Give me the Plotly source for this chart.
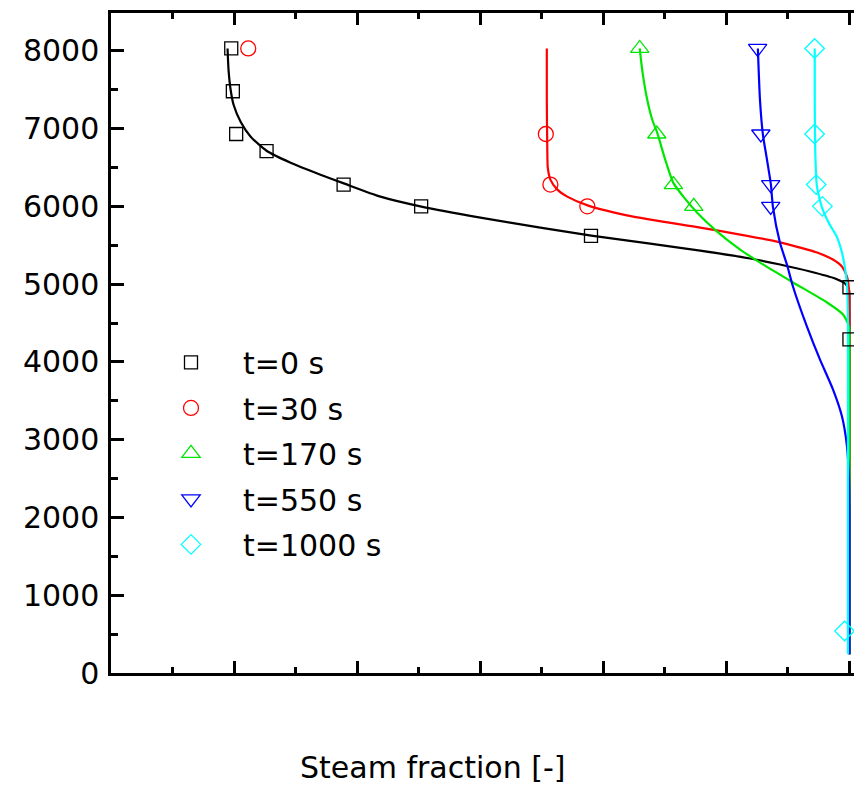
import plotly.graph_objects as go

# ---------------- data ----------------
series_names = ["t=0 s", "t=30 s", "t=170 s", "t=550 s", "t=1000 s"]
series_colors = ["#000000", "#ff0000", "#00e600", "#0000ff", "#00ffff"]
series_symbols = ["square-open", "circle-open", "triangle-up-open", "triangle-down-open", "diamond-open"]
series_sizes = [13, 15, 16, 16, 15]

# measured points (steam fraction, elevation)
pts_x_t0 = [0.4977, 0.499, 0.5017, 0.5264, 0.589, 0.652, 0.790, 1.0, 1.0]
pts_y_t0 = [8030, 7480, 6930, 6710, 6280, 6000, 5620, 4960, 4290]
pts_x_t30 = [0.5115, 0.7533, 0.757, 0.787]
pts_y_t30 = [8030, 6930, 6280, 6000]
pts_x_t170 = [0.8296, 0.8435, 0.857, 0.8735]
pts_y_t170 = [8030, 6930, 6280, 6000]
pts_x_t550 = [0.9254, 0.928, 0.936, 0.936]
pts_y_t550 = [8030, 6930, 6280, 6000]
pts_x_t1000 = [0.9717, 0.9717, 0.973, 0.978, 0.996]
pts_y_t1000 = [8030, 6930, 6280, 6000, 540]

# model curves
crv_x_t0 = [0.4947, 0.4955, 0.4972, 0.4996, 0.5053, 0.5135, 0.5264, 0.5459, 0.5702, 0.5897,
            0.6189, 0.6522, 0.7001, 0.7488, 0.7902, 0.8381, 0.8787, 0.9193, 0.9436, 0.968,
            0.9883, 0.9964, 0.9996, 1.0, 1.0]
crv_y_t0 = [8030, 7755, 7499, 7306, 7088, 6895, 6715, 6561, 6407, 6292,
            6125, 5997, 5855, 5727, 5624, 5521, 5431, 5329, 5252, 5162,
            5072, 5008, 4931, 4674, 240]

crv_x_t30 = [0.7541, 0.7541, 0.7545, 0.7549, 0.757, 0.7626, 0.7707, 0.7878, 0.8243, 0.8787,
             0.9112, 0.9412, 0.9599, 0.9737, 0.9866, 0.9939, 0.998, 0.9996, 1.0, 1.0]
crv_y_t30 = [8030, 7370, 6728, 6497, 6343, 6215, 6125, 6009, 5868, 5727,
             5637, 5547, 5470, 5406, 5316, 5226, 5098, 4931, 4545, 240]

crv_x_t170 = [0.8296, 0.8316, 0.8357, 0.8398, 0.8438, 0.8503, 0.8568, 0.8657, 0.8763, 0.8925,
              0.9112, 0.9274, 0.9542, 0.9818, 0.9948, 0.9996, 1.0, 1.0]
crv_y_t170 = [8030, 7755, 7370, 7113, 6947, 6600, 6305, 6112, 5919, 5675,
              5444, 5277, 5021, 4764, 4610, 4456, 4224, 240]

crv_x_t550 = [0.9256, 0.9273, 0.9297, 0.933, 0.9362, 0.9378, 0.9435, 0.9492, 0.9541, 0.9654,
              0.976, 0.9866, 0.9939, 0.998, 0.9996, 1.0, 1.0]
crv_y_t550 = [8030, 7370, 6921, 6600, 6279, 5997, 5534, 5252, 4969, 4456,
              4032, 3647, 3300, 2915, 2491, 1977, 240]

crv_x_t1000 = [0.9718, 0.9718, 0.9722, 0.9734, 0.9759, 0.9783, 0.984, 0.9897, 0.9937, 0.9962,
               0.998, 0.9988, 0.9988]
crv_y_t1000 = [8030, 7370, 6728, 6279, 6086, 5958, 5765, 5611, 5418, 5226,
               4995, 4545, 240]

pts_x = [pts_x_t0, pts_x_t30, pts_x_t170, pts_x_t550, pts_x_t1000]
pts_y = [pts_y_t0, pts_y_t30, pts_y_t170, pts_y_t550, pts_y_t1000]
crv_x = [crv_x_t0, crv_x_t30, crv_x_t170, crv_x_t550, crv_x_t1000]
crv_y = [crv_y_t0, crv_y_t30, crv_y_t170, crv_y_t550, crv_y_t1000]

x_title = "Steam fraction [-]"

# ---------------- figure ----------------
FONT = "DejaVu Sans"
fig = go.Figure()

for i in range(len(series_names)):
    fig.add_trace(go.Scatter(
        x=crv_x[i], y=crv_y[i], mode="lines",
        line=dict(color=series_colors[i], width=2.2, shape="spline", smoothing=0.6),
        showlegend=False, hoverinfo="skip"))

for i in range(len(series_names)):
    fig.add_trace(go.Scatter(
        x=pts_x[i], y=pts_y[i], mode="markers", name=series_names[i],
        legendgroup=series_names[i],
        marker=dict(symbol=series_symbols[i], size=series_sizes[i],
                    color=series_colors[i], line=dict(width=1.3, color=series_colors[i]))))

L, R, T, B = 111, 0, 13, 113
W, H = 854, 786

fig.update_layout(
    width=W, height=H,
    margin=dict(l=L, r=R, t=T, b=B, pad=0),
    paper_bgcolor="white", plot_bgcolor="white",
    font=dict(family=FONT, size=30, color="black"),
    showlegend=True,
    legend=dict(x=(139 - L) / (W - L - R), y=0.51, xanchor="left", yanchor="top",
                bgcolor="rgba(0,0,0,0)", borderwidth=0,
                font=dict(family=FONT, size=30, color="black"),
                tracegroupgap=3.5, itemsizing="trace", itemwidth=94),
    xaxis=dict(range=[0.4, 1.0037], showgrid=False, zeroline=False,
               showline=True, linecolor="black", linewidth=2.5, mirror="ticks",
               ticks="inside", ticklen=12, tickwidth=2.5, tickcolor="black",
               dtick=0.1, tick0=0.4, showticklabels=False,
               minor=dict(ticks="inside", ticklen=6, tickwidth=2.5, tickcolor="black", dtick=0.05)),
    yaxis=dict(range=[0, 8486], showgrid=False, zeroline=False,
               showline=True, linecolor="black", linewidth=2.5, mirror=False,
               ticks="inside", ticklen=13, tickwidth=2.5, tickcolor="black",
               dtick=1000, tick0=0, ticklabelstandoff=3,
               tickfont=dict(family=FONT, size=30, color="black"),
               minor=dict(ticks="inside", ticklen=7, tickwidth=2.5, tickcolor="black", dtick=500)),
    yaxis2=dict(range=[0, 8486], overlaying="y", side="right", anchor="x",
                showgrid=False, zeroline=False, showline=False,
                ticks="inside", ticklen=11, tickwidth=2.5, tickcolor="black",
                dtick=1000, tick0=0, showticklabels=False,
                minor=dict(ticks="inside", ticklen=5, tickwidth=2.5, tickcolor="black", dtick=500)),
    annotations=[dict(text=x_title, xref="paper", yref="paper",
                      x=(432 - L) / (W - L - R), y=(H - B - 767) / (H - T - B),
                      xanchor="center", yanchor="middle", showarrow=False,
                      font=dict(family=FONT, size=30, color="black"))],
)

fig.write_html("out.html")
